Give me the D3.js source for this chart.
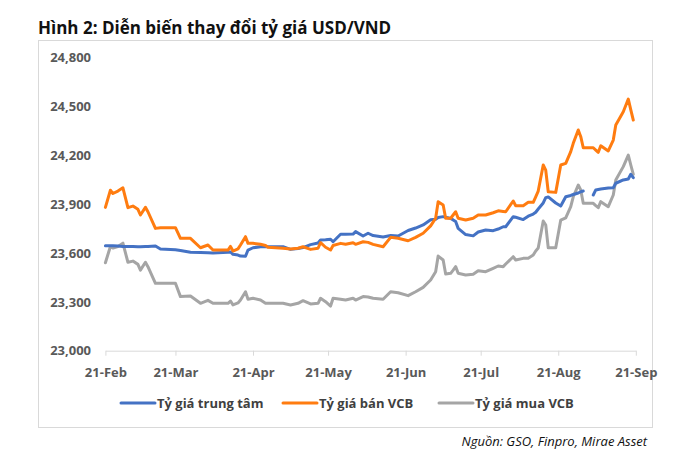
<!DOCTYPE html>
<html>
<head>
<meta charset="utf-8">
<script src="https://cdn.jsdelivr.net/npm/d3@7"></script>
<style>
  html, body { margin: 0; padding: 0; background: #fff; }
  svg { display: block; font-family: "Open Sans", sans-serif; }
</style>
</head>
<body>
<svg id="chart" width="698" height="464"></svg>
<script>
const title = "Hình 2: Diễn biến thay đổi tỷ giá USD/VND";
const source = "Nguồn: GSO, Finpro, Mirae Asset";
const seriesNames = ["Tỷ giá trung tâm", "Tỷ giá bán VCB", "Tỷ giá mua VCB"];
const seriesColors = ["#4472C4", "#FF7C10", "#A5A5A5"];
const yTicks = [23000, 23300, 23600, 23900, 24200, 24500, 24800];
const xTickDates = ["2023-02-21","2023-03-21","2023-04-21","2023-05-21","2023-06-21","2023-07-21","2023-08-21","2023-09-21"];

const dates = [
"2023-02-21","2023-02-23","2023-02-24","2023-02-26","2023-02-28","2023-03-02","2023-03-04","2023-03-06","2023-03-07","2023-03-09",
"2023-03-10","2023-03-13","2023-03-15","2023-03-21","2023-03-23","2023-03-27","2023-03-31","2023-04-03","2023-04-05","2023-04-11",
"2023-04-12","2023-04-13","2023-04-15","2023-04-16","2023-04-18","2023-04-19","2023-04-21","2023-04-24","2023-04-26","2023-04-27",
"2023-05-03","2023-05-06","2023-05-09","2023-05-11","2023-05-14","2023-05-17","2023-05-18","2023-05-20","2023-05-22","2023-05-23",
"2023-05-26","2023-05-28","2023-05-31","2023-06-01","2023-06-04","2023-06-06","2023-06-08","2023-06-12","2023-06-15","2023-06-18",
"2023-06-22","2023-06-25","2023-06-28","2023-07-01","2023-07-03","2023-07-04","2023-07-06","2023-07-07","2023-07-09","2023-07-10",
"2023-07-11","2023-07-12","2023-07-15","2023-07-18","2023-07-20","2023-07-23","2023-07-26","2023-07-28","2023-07-30","2023-07-31",
"2023-08-03","2023-08-04","2023-08-07","2023-08-09","2023-08-11","2023-08-12","2023-08-13","2023-08-15","2023-08-16","2023-08-17",
"2023-08-20","2023-08-22","2023-08-24","2023-08-26","2023-08-27","2023-08-29","2023-08-30","2023-08-31","2023-09-02","2023-09-04",
"2023-09-05","2023-09-06","2023-09-07","2023-09-10","2023-09-12","2023-09-13","2023-09-16","2023-09-18","2023-09-19","2023-09-20"];

const centralRate = [
23645,23645,23645,23643,23640,23640,23640,23638,23638,23640,
23640,23643,23624,23620,23615,23604,23603,23602,23600,23604,
23606,23592,23587,23581,23580,23618,23632,23638,23638,23638,
23638,23622,23627,23633,23651,23661,23680,23681,23684,23669,
23715,23715,23716,23731,23704,23721,23707,23698,23707,23704,
23738,23753,23772,23804,23807,23818,23823,23819,23812,23803,
23793,23751,23713,23705,23729,23741,23737,23747,23761,23761,
23823,23819,23805,23826,23839,23850,23870,23907,23940,23944,
23907,23888,23945,23953,23959,23968,23976,23980,null,23956,
23987,23990,23993,23999,24000,24028,24048,24054,24083,24062];

const vcbSell = [
23880,23985,23965,23980,24000,23878,23888,23868,23833,23880,
23853,23751,23755,23755,23690,23690,23632,23649,23618,23618,
23640,23612,23625,23649,23700,23659,23659,23653,23646,23635,
23629,23624,23629,23638,23622,23629,23663,23635,23618,23646,
23659,23653,23663,23653,23669,23665,23653,23638,23696,23690,
23675,23696,23721,23766,23813,23915,23894,23813,23813,23833,
23853,23813,23802,23813,23833,23833,23847,23859,23855,23853,
23919,23890,23890,23911,23911,23945,23980,24140,24109,23976,
23972,24140,24150,24222,24273,24355,24314,24246,24246,24246,
24232,24218,24258,24226,24293,24386,24467,24545,24478,24416];

const vcbBuy = [
23540,23640,23630,23640,23660,23543,23550,23530,23495,23543,
23516,23414,23414,23414,23332,23336,23291,23309,23291,23291,
23305,23281,23293,23311,23362,23316,23322,23311,23291,23291,
23291,23281,23291,23307,23287,23291,23322,23301,23274,23322,
23316,23311,23322,23311,23332,23330,23322,23316,23362,23356,
23338,23362,23389,23434,23485,23581,23557,23471,23475,23495,
23516,23475,23465,23469,23491,23485,23506,23520,23516,23532,
23577,23557,23567,23567,23587,23612,23630,23796,23772,23632,
23632,23802,23816,23884,23945,24017,23987,23905,23905,23905,
23891,23878,23915,23884,23956,24048,24130,24201,24140,24083];

const parse = d3.timeParse("%Y-%m-%d");
const fmt = d3.timeFormat("%d-%b");
const svg = d3.select("#chart");

// frame
svg.append("rect").attr("x", 38.5).attr("y", 40.5).attr("width", 614).attr("height", 387)
  .attr("fill", "none").attr("stroke", "#d9d9d9").attr("stroke-width", 1);

// title
svg.append("text").attr("x", 38).attr("y", 34)
  .attr("font-size", 17).attr("font-weight", 700).attr("fill", "#111")
  .text(title);

const x = d3.scaleTime()
  .domain([parse(xTickDates[0]), parse(xTickDates[xTickDates.length - 1])])
  .range([105.4, 635.8]);
const y = d3.scaleLinear().domain([23000, 24800]).range([350.7, 57.5]);

// y axis (labels only)
const yAxis = svg.append("g").attr("transform", "translate(91,0)")
  .call(d3.axisLeft(y).tickValues(yTicks).tickFormat(d3.format(",")).tickSize(0).tickPadding(0));
yAxis.select(".domain").remove();
yAxis.selectAll("text").attr("font-family", "Open Sans").attr("font-size", 13)
  .attr("font-weight", 700).attr("fill", "#595959");

// x axis
const xAxis = svg.append("g").attr("transform", "translate(0,350.7)")
  .call(d3.axisBottom(x).tickValues(xTickDates.map(parse)).tickFormat(fmt).tickSize(5).tickPadding(12).tickSizeOuter(0));
xAxis.select(".domain").attr("stroke", "#d9d9d9");
xAxis.selectAll(".tick line").attr("stroke", "#d9d9d9");
xAxis.selectAll("text").attr("font-family", "Open Sans").attr("font-size", 13)
  .attr("font-weight", 700).attr("fill", "#595959");

// lines
const seriesValues = [centralRate, vcbSell, vcbBuy];
const drawOrder = [2, 0, 1];
const line = d3.line()
  .defined(d => d.v != null)
  .x(d => x(d.date)).y(d => y(d.v));
drawOrder.forEach(i => {
  const data = dates.map((d, k) => ({ date: parse(d), v: seriesValues[i][k] }));
  svg.append("path").datum(data)
    .attr("fill", "none").attr("stroke", seriesColors[i]).attr("stroke-width", 3)
    .attr("stroke-linejoin", "round").attr("stroke-linecap", "round")
    .attr("d", line);
});

// legend
const legendX = [121, 283, 439];
seriesNames.forEach((name, i) => {
  const g = svg.append("g").attr("transform", `translate(${legendX[i]},403)`);
  g.append("line").attr("x1", 0).attr("x2", 34).attr("y1", 0).attr("y2", 0)
    .attr("stroke", seriesColors[i]).attr("stroke-width", 3).attr("stroke-linecap", "round");
  g.append("text").attr("x", 36).attr("y", 4.5)
    .attr("font-size", 13).attr("font-weight", 700).attr("fill", "#404040").text(name);
});

// source
svg.append("text").attr("x", 647).attr("y", 446).attr("text-anchor", "end")
  .attr("font-size", 13).attr("font-style", "italic").attr("fill", "#111").text(source);
</script>
</body>
</html>
